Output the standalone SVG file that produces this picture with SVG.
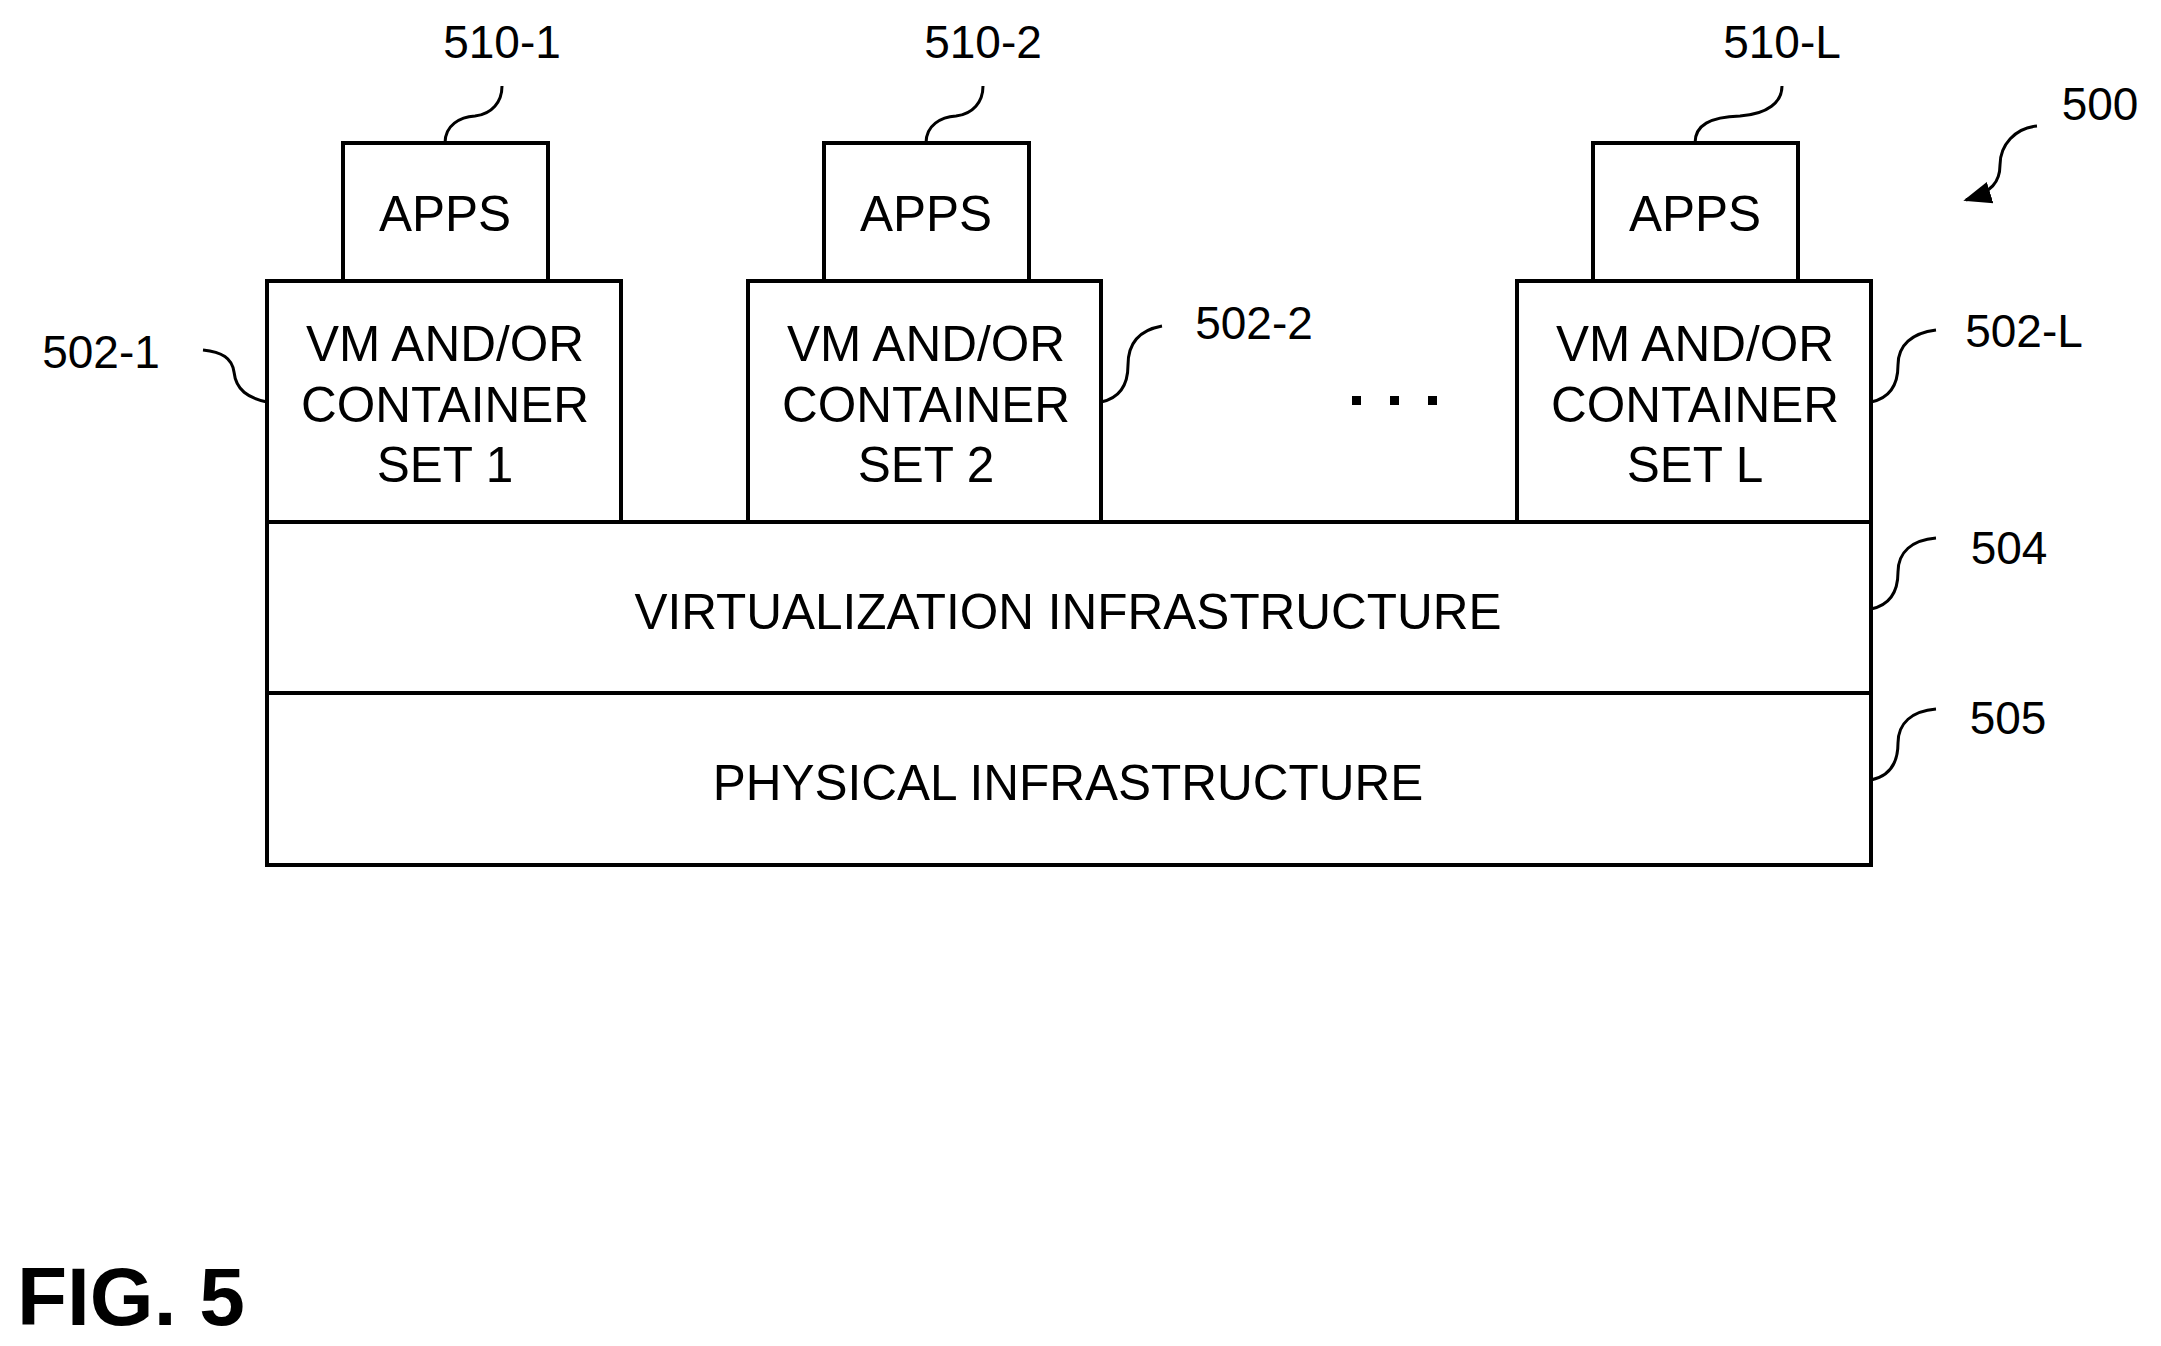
<svg xmlns="http://www.w3.org/2000/svg" width="2161" height="1346" viewBox="0 0 2161 1346">
<style>
.b{fill:#fff;stroke:#000;stroke-width:4}
.t{font-family:"Liberation Sans",Arial,sans-serif;font-size:49.5px;text-anchor:middle;fill:#000}
.l{font-family:"Liberation Sans",Arial,sans-serif;font-size:46px;text-anchor:middle;fill:#000}
.c{fill:none;stroke:#000;stroke-width:3}
</style>
<defs>
<marker id="a" viewBox="0 0 10 10" refX="9" refY="5" markerWidth="28" markerHeight="28" markerUnits="userSpaceOnUse" orient="auto"><path d="M0,1 L10,5 L0,9 z"/></marker></defs>
<rect width="2161" height="1346" fill="#fff"/>
<g id="phys"><rect class="b" x="267" y="693" width="1604" height="172"/><text class="t" x="1068" y="800">PHYSICAL INFRASTRUCTURE</text></g>
<g id="virt"><rect class="b" x="267" y="522" width="1604" height="171"/><text class="t" x="1068" y="629">VIRTUALIZATION INFRASTRUCTURE</text></g>
<g id="vm1"><rect class="b" x="267" y="281" width="354" height="241"/><text class="t" x="445" y="361">VM AND/OR</text><text class="t" x="445" y="422">CONTAINER</text><text class="t" x="445" y="482">SET 1</text></g>
<g id="vm2"><rect class="b" x="748" y="281" width="353" height="241"/><text class="t" x="926" y="361">VM AND/OR</text><text class="t" x="926" y="422">CONTAINER</text><text class="t" x="926" y="482">SET 2</text></g>
<g id="vmL"><rect class="b" x="1517" y="281" width="354" height="241"/><text class="t" x="1695" y="361">VM AND/OR</text><text class="t" x="1695" y="422">CONTAINER</text><text class="t" x="1695" y="482">SET L</text></g>
<g id="apps1"><rect class="b" x="343" y="143" width="205" height="138"/><text class="t" x="445" y="231">APPS</text></g>
<g id="apps2"><rect class="b" x="824" y="143" width="205" height="138"/><text class="t" x="926" y="231">APPS</text></g>
<g id="appsL"><rect class="b" x="1593" y="143" width="205" height="138"/><text class="t" x="1695" y="231">APPS</text></g>
<g id="dots"><rect x="1352" y="396" width="9" height="9"/><rect x="1390" y="396" width="9" height="9"/><rect x="1428" y="396" width="9" height="9"/></g>
<g id="connectors">
<path class="c" d="M445,143 C445,125 460,117 475,116 C492,114 502,102 502,86"/>
<path class="c" d="M926,143 C926,125 941,117 956,116 C973,114 983,102 983,86"/>
<path class="c" d="M1695,143 C1695,125 1710,117 1740,116 C1768,114 1782,102 1782,86"/>
<path class="c" d="M267,402 C248,398 236,390 234,372 C232,358 222,352 203,350"/>
<path class="c" d="M1101,402 C1120,398 1128,385 1128,365 C1128,342 1140,330 1162,326"/>
<path class="c" d="M1871,402 C1890,398 1898,385 1898,365 C1898,345 1912,333 1936,330"/>
<path class="c" d="M1871,609 C1890,605 1898,592 1898,572 C1898,552 1912,540 1936,538"/>
<path class="c" d="M1871,780 C1890,776 1898,763 1898,743 C1898,723 1912,711 1936,709"/>
<path class="c" d="M2037,126 C2015,128 2000,145 2000,165 C2000,182 1992,192 1966,200" marker-end="url(#a)"/>
</g>
<g id="labels">
<text class="l" x="502" y="58">510-1</text>
<text class="l" x="983" y="58">510-2</text>
<text class="l" x="1782" y="58">510-L</text>
<text class="l" x="2100" y="120">500</text>
<text class="l" x="101" y="368">502-1</text>
<text class="l" x="1254" y="339">502-2</text>
<text class="l" x="2024" y="347">502-L</text>
<text class="l" x="2009" y="564">504</text>
<text class="l" x="2008" y="734">505</text>
<text x="17" y="1325" font-family="Liberation Sans,Arial,sans-serif" font-weight="bold" font-size="82">FIG. 5</text>
</g>
</svg>
